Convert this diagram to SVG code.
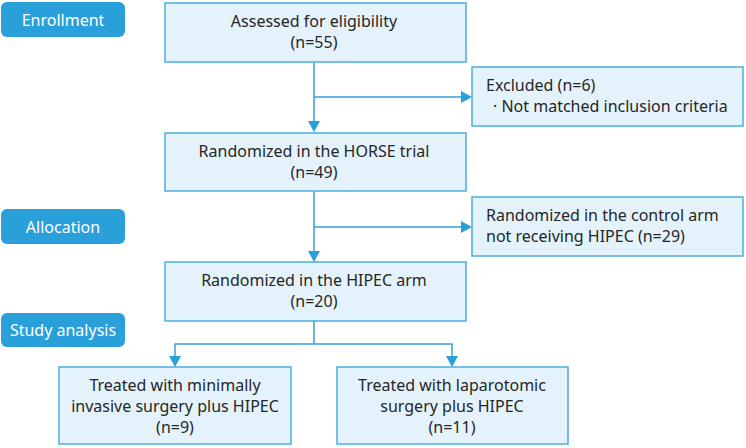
<svg xmlns="http://www.w3.org/2000/svg" width="746" height="448" viewBox="0 0 746 448">
<defs>
<style>
.pill{fill:#29a0da;}
.pt{fill:#ffffff;font-family:"Noto Sans","Liberation Sans",sans-serif;font-size:16px;text-anchor:middle;}
.box{fill:#e4f3fb;stroke:#4aaee0;stroke-width:1.5;}
.t{fill:#262626;font-family:"Noto Sans","Liberation Sans",sans-serif;font-size:16px;}
.c{text-anchor:middle;}
.ln{fill:none;stroke:#3a9fd9;stroke-width:1.5;}
.ah{fill:#29a0da;}
</style>
</defs>
<rect width="746" height="448" fill="#ffffff"/>
<g id="enrollment"><rect class="pill" x="1" y="2" width="124" height="35" rx="6"/><text class="pt" x="63" y="26">Enrollment</text></g>
<g id="allocation"><rect class="pill" x="1" y="209" width="124" height="35" rx="6"/><text class="pt" x="63" y="233">Allocation</text></g>
<g id="study"><rect class="pill" x="1" y="313" width="124" height="34" rx="6"/><text class="pt" x="63" y="336">Study analysis</text></g>

<g id="connectors">
<path class="ln" d="M314 62 V122 M314 97 H462"/>
<polygon class="ah" points="308,121 320,121 314,132"/>
<polygon class="ah" points="461,91 461,103 472,97"/>
<path class="ln" d="M314 191 V251 M314 227 H462"/>
<polygon class="ah" points="308,251 320,251 314,262"/>
<polygon class="ah" points="461,221 461,233 472,227"/>
<path class="ln" d="M314 321 V344 M175 357 V344 H452 V357"/>
<polygon class="ah" points="169,356 181,356 175,367"/>
<polygon class="ah" points="446,356 458,356 452,367"/>
</g>

<g id="assessed"><rect class="box" x="165" y="3" width="301" height="59"/><text class="t c" x="314" y="27">Assessed for eligibility</text><text class="t c" x="314" y="48">(n=55)</text></g>
<g id="excluded"><rect class="box" x="472" y="67" width="271" height="59"/><text class="t" x="486" y="91">Excluded (n=6)</text><text class="t" x="493" y="112">· Not matched inclusion criteria</text></g>
<g id="horse"><rect class="box" x="165" y="133" width="301" height="58"/><text class="t c" x="314" y="157">Randomized in the HORSE trial</text><text class="t c" x="314" y="178">(n=49)</text></g>
<g id="control"><rect class="box" x="472" y="197" width="271" height="59"/><text class="t" x="486" y="221">Randomized in the control arm</text><text class="t" x="486" y="242">not receiving HIPEC (n=29)</text></g>
<g id="hipec"><rect class="box" x="165" y="262" width="301" height="59"/><text class="t c" x="314" y="286">Randomized in the HIPEC arm</text><text class="t c" x="314" y="307">(n=20)</text></g>
<g id="mis"><rect class="box" x="59" y="367" width="232" height="77"/><text class="t c" x="175" y="391">Treated with minimally</text><text class="t c" x="175" y="412">invasive surgery plus HIPEC</text><text class="t c" x="175" y="433">(n=9)</text></g>
<g id="lap"><rect class="box" x="337" y="367" width="231" height="77"/><text class="t c" x="452" y="391">Treated with laparotomic</text><text class="t c" x="452" y="412">surgery plus HIPEC</text><text class="t c" x="452" y="433">(n=11)</text></g>
</svg>
